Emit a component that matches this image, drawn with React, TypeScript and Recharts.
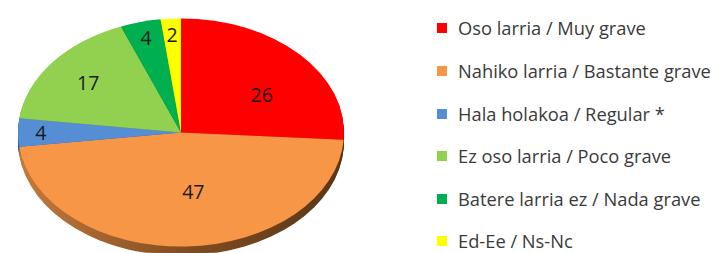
import { PieChart, Pie, Cell, Legend } from 'recharts';

const categories = [
  'Oso larria / Muy grave',
  'Nahiko larria / Bastante grave',
  'Hala holakoa / Regular *',
  'Ez oso larria / Poco grave',
  'Batere larria ez / Nada grave',
  'Ed-Ee / Ns-Nc',
];
const values = [26, 47, 4, 17, 4, 2];

const colors = ['#FF0000', '#F79646', '#558ED5', '#92D050', '#00B050', '#FFFF00'];
const sideColors = ['#8B0000', 'url(#orangeSide)', '#2F5A94', '#5D8A2C', '#006E32', '#A0A000'];

const data = categories.map((name, i) => ({ name, value: values[i] }));

// the pie is drawn as a circle and squashed vertically to look tilted
const SQUASH = 0.7;
const W = 721;
const H = 253;
const CX = 176;
const CY = 129 / SQUASH;
const R = 163;
const DEPTH = 9;
const FONT = '"Open Sans", "Liberation Sans", sans-serif';

const RAD = Math.PI / 180;

const renderLabel = (p: any) => {
  const theta = p.percent * 2 * Math.PI;
  // big slices: near the centroid, nudged toward the viewer; small ones further out
  const big = theta >= 1.2;
  const f = theta < 0.5 ? 0.86 : big ? (4 * Math.sin(theta / 2)) / (3 * theta) : 0.72;
  const x = p.cx + (big ? 10 : 0) + p.outerRadius * f * Math.cos(-p.midAngle * RAD);
  const y = p.cy + (big ? 8 / SQUASH : 0) + p.outerRadius * f * Math.sin(-p.midAngle * RAD);
  return (
    <text
      x={x}
      y={y}
      transform={`translate(${x} ${y}) scale(1 ${1 / SQUASH}) translate(${-x} ${-y})`}
      textAnchor="middle"
      dominantBaseline="central"
      fill="#1a1a1a"
      fontSize={19.5}
      fontFamily={FONT}
    >
      {p.value}
    </text>
  );
};

const renderLegend = (props: any) => {
  const seen = new Set<string>();
  const items = (props.payload || [])
    .filter((p: any) => {
      if (seen.has(p.value)) return false;
      seen.add(p.value);
      return true;
    })
    .sort((a: any, b: any) => categories.indexOf(a.value) - categories.indexOf(b.value));
  return (
    <div
      style={{
        position: 'absolute',
        left: 437,
        top: 7 / SQUASH,
        transform: `scaleY(${1 / SQUASH})`,
        transformOrigin: '0 0',
        fontFamily: FONT,
        fontSize: 18.3,
        lineHeight: '18px',
        color: '#3a3a3a',
      }}
    >
      {items.map((entry: any, i: number) => (
        <div
          key={entry.value}
          style={{
            display: 'flex',
            alignItems: 'center',
            height: 18,
            marginTop: i === 0 ? 12.4 : 24.6,
            whiteSpace: 'nowrap',
          }}
        >
          <span style={{ width: 10, height: 10, background: colors[categories.indexOf(entry.value)], marginRight: 11 }} />
          <span>{entry.value}</span>
        </div>
      ))}
    </div>
  );
};

export default function App() {
  return (
    <div style={{ position: 'absolute', left: 0, top: 0, width: W, height: H, overflow: 'hidden', background: '#fff' }}>
      <div style={{ transform: `scaleY(${SQUASH})`, transformOrigin: '0 0' }}>
        <PieChart width={W} height={H / SQUASH}>
          <defs>
            <linearGradient id="orangeSide" gradientUnits="userSpaceOnUse" x1={CX - R} y1={0} x2={CX + R} y2={0}>
              <stop offset="0%" stopColor="#C67B3C" />
              <stop offset="55%" stopColor="#7E4B22" />
              <stop offset="100%" stopColor="#5A3718" />
            </linearGradient>
          </defs>
          {Array.from({ length: DEPTH }, (_, k) => DEPTH - k).map((k) => (
            <Pie
              key={`side-${k}`}
              data={data}
              dataKey="value"
              nameKey="name"
              cx={CX}
              cy={CY + k / SQUASH}
              outerRadius={R}
              startAngle={90}
              endAngle={-270}
              stroke="none"
              legendType="none"
              label={false}
              labelLine={false}
              isAnimationActive={false}
            >
              {data.map((d, i) => (
                <Cell key={d.name} fill={sideColors[i]} />
              ))}
            </Pie>
          ))}
          <Pie
            data={data}
            dataKey="value"
            nameKey="name"
            cx={CX}
            cy={CY}
            outerRadius={R}
            startAngle={90}
            endAngle={-270}
            stroke="none"
            label={renderLabel}
            labelLine={false}
            isAnimationActive={false}
          >
            {data.map((d, i) => (
              <Cell key={d.name} fill={colors[i]} />
            ))}
          </Pie>
          <Legend
            content={renderLegend}
            wrapperStyle={{ position: 'absolute', left: 0, top: 0, width: W, height: H / SQUASH }}
          />
        </PieChart>
      </div>
    </div>
  );
}
